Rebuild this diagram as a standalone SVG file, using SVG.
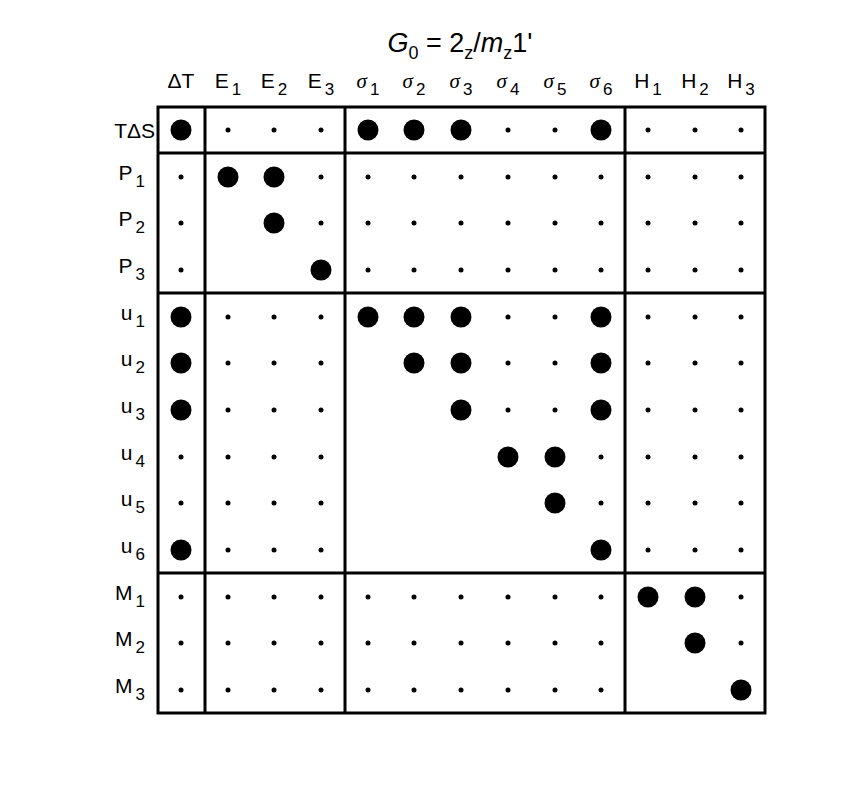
<svg xmlns="http://www.w3.org/2000/svg" width="856" height="812" viewBox="0 0 856 812">
<style>
text{font-family:"Liberation Sans",Arial,sans-serif;fill:#000}
.c{font-size:21px;text-anchor:middle}
.r{font-size:21px;text-anchor:end}
.s{font-family:"Liberation Serif",serif;font-style:italic}
.u{font-size:17px}
.b{fill:#000}
line{stroke:#000;stroke-width:3}
</style>
<rect width="856" height="812" fill="#fff"/>
<text x="460" y="52" font-size="27" text-anchor="middle"><tspan font-style="italic">G</tspan><tspan font-size="18" dy="7">0</tspan><tspan dy="-7"> = 2</tspan><tspan font-size="18" dy="7">z</tspan><tspan dy="-7">/</tspan><tspan font-style="italic">m</tspan><tspan font-size="18" dy="7">z</tspan><tspan dy="-7">1'</tspan></text>
<g id="cols" class="c">
<text x="181" y="88">ΔT</text>
<text x="228" y="88">E<tspan class="u" dx="3" dy="7">1</tspan></text>
<text x="274" y="88">E<tspan class="u" dx="3" dy="7">2</tspan></text>
<text x="321" y="88">E<tspan class="u" dx="3" dy="7">3</tspan></text>
<text x="368" y="88"><tspan class="s">σ</tspan><tspan class="u" dx="3" dy="7">1</tspan></text>
<text x="414" y="88"><tspan class="s">σ</tspan><tspan class="u" dx="3" dy="7">2</tspan></text>
<text x="461" y="88"><tspan class="s">σ</tspan><tspan class="u" dx="3" dy="7">3</tspan></text>
<text x="508" y="88"><tspan class="s">σ</tspan><tspan class="u" dx="3" dy="7">4</tspan></text>
<text x="555" y="88"><tspan class="s">σ</tspan><tspan class="u" dx="3" dy="7">5</tspan></text>
<text x="601" y="88"><tspan class="s">σ</tspan><tspan class="u" dx="3" dy="7">6</tspan></text>
<text x="648" y="88">H<tspan class="u" dx="3" dy="7">1</tspan></text>
<text x="695" y="88">H<tspan class="u" dx="3" dy="7">2</tspan></text>
<text x="741" y="88">H<tspan class="u" dx="3" dy="7">3</tspan></text>
</g>
<g id="rows" class="r">
<text x="155" y="138">TΔS</text>
<text x="145" y="180">P<tspan class="u" dx="3" dy="7">1</tspan></text>
<text x="145" y="226">P<tspan class="u" dx="3" dy="7">2</tspan></text>
<text x="145" y="273">P<tspan class="u" dx="3" dy="7">3</tspan></text>
<text x="145" y="320">u<tspan class="u" dx="3" dy="7">1</tspan></text>
<text x="145" y="366">u<tspan class="u" dx="3" dy="7">2</tspan></text>
<text x="145" y="413">u<tspan class="u" dx="3" dy="7">3</tspan></text>
<text x="145" y="460">u<tspan class="u" dx="3" dy="7">4</tspan></text>
<text x="145" y="506">u<tspan class="u" dx="3" dy="7">5</tspan></text>
<text x="145" y="553">u<tspan class="u" dx="3" dy="7">6</tspan></text>
<text x="145" y="600">M<tspan class="u" dx="3" dy="7">1</tspan></text>
<text x="145" y="646">M<tspan class="u" dx="3" dy="7">2</tspan></text>
<text x="145" y="693">M<tspan class="u" dx="3" dy="7">3</tspan></text>
</g>
<g id="grid">
<rect x="158" y="107" width="607" height="606" fill="none" stroke="#000" stroke-width="3"/>
<line x1="205" y1="107" x2="205" y2="713"/>
<line x1="345" y1="107" x2="345" y2="713"/>
<line x1="625" y1="107" x2="625" y2="713"/>
<line x1="158" y1="153" x2="765" y2="153"/>
<line x1="158" y1="293" x2="765" y2="293"/>
<line x1="158" y1="573" x2="765" y2="573"/>
</g>
<g id="dots" class="b">
<circle cx="181" cy="130" r="10.5"/><circle cx="228" cy="130" r="2.5"/><circle cx="274" cy="130" r="2.5"/><circle cx="321" cy="130" r="2.5"/><circle cx="368" cy="130" r="10.5"/><circle cx="414" cy="130" r="10.5"/><circle cx="461" cy="130" r="10.5"/><circle cx="508" cy="130" r="2.5"/><circle cx="555" cy="130" r="2.5"/><circle cx="601" cy="130" r="10.5"/><circle cx="648" cy="130" r="2.5"/><circle cx="695" cy="130" r="2.5"/><circle cx="741" cy="130" r="2.5"/>
<circle cx="181" cy="177" r="2.5"/><circle cx="228" cy="177" r="10.5"/><circle cx="274" cy="177" r="10.5"/><circle cx="321" cy="177" r="2.5"/><circle cx="368" cy="177" r="2.5"/><circle cx="414" cy="177" r="2.5"/><circle cx="461" cy="177" r="2.5"/><circle cx="508" cy="177" r="2.5"/><circle cx="555" cy="177" r="2.5"/><circle cx="601" cy="177" r="2.5"/><circle cx="648" cy="177" r="2.5"/><circle cx="695" cy="177" r="2.5"/><circle cx="741" cy="177" r="2.5"/>
<circle cx="181" cy="223" r="2.5"/><circle cx="274" cy="223" r="10.5"/><circle cx="321" cy="223" r="2.5"/><circle cx="368" cy="223" r="2.5"/><circle cx="414" cy="223" r="2.5"/><circle cx="461" cy="223" r="2.5"/><circle cx="508" cy="223" r="2.5"/><circle cx="555" cy="223" r="2.5"/><circle cx="601" cy="223" r="2.5"/><circle cx="648" cy="223" r="2.5"/><circle cx="695" cy="223" r="2.5"/><circle cx="741" cy="223" r="2.5"/>
<circle cx="181" cy="270" r="2.5"/><circle cx="321" cy="270" r="10.5"/><circle cx="368" cy="270" r="2.5"/><circle cx="414" cy="270" r="2.5"/><circle cx="461" cy="270" r="2.5"/><circle cx="508" cy="270" r="2.5"/><circle cx="555" cy="270" r="2.5"/><circle cx="601" cy="270" r="2.5"/><circle cx="648" cy="270" r="2.5"/><circle cx="695" cy="270" r="2.5"/><circle cx="741" cy="270" r="2.5"/>
<circle cx="181" cy="317" r="10.5"/><circle cx="228" cy="317" r="2.5"/><circle cx="274" cy="317" r="2.5"/><circle cx="321" cy="317" r="2.5"/><circle cx="368" cy="317" r="10.5"/><circle cx="414" cy="317" r="10.5"/><circle cx="461" cy="317" r="10.5"/><circle cx="508" cy="317" r="2.5"/><circle cx="555" cy="317" r="2.5"/><circle cx="601" cy="317" r="10.5"/><circle cx="648" cy="317" r="2.5"/><circle cx="695" cy="317" r="2.5"/><circle cx="741" cy="317" r="2.5"/>
<circle cx="181" cy="363" r="10.5"/><circle cx="228" cy="363" r="2.5"/><circle cx="274" cy="363" r="2.5"/><circle cx="321" cy="363" r="2.5"/><circle cx="414" cy="363" r="10.5"/><circle cx="461" cy="363" r="10.5"/><circle cx="508" cy="363" r="2.5"/><circle cx="555" cy="363" r="2.5"/><circle cx="601" cy="363" r="10.5"/><circle cx="648" cy="363" r="2.5"/><circle cx="695" cy="363" r="2.5"/><circle cx="741" cy="363" r="2.5"/>
<circle cx="181" cy="410" r="10.5"/><circle cx="228" cy="410" r="2.5"/><circle cx="274" cy="410" r="2.5"/><circle cx="321" cy="410" r="2.5"/><circle cx="461" cy="410" r="10.5"/><circle cx="508" cy="410" r="2.5"/><circle cx="555" cy="410" r="2.5"/><circle cx="601" cy="410" r="10.5"/><circle cx="648" cy="410" r="2.5"/><circle cx="695" cy="410" r="2.5"/><circle cx="741" cy="410" r="2.5"/>
<circle cx="181" cy="457" r="2.5"/><circle cx="228" cy="457" r="2.5"/><circle cx="274" cy="457" r="2.5"/><circle cx="321" cy="457" r="2.5"/><circle cx="508" cy="457" r="10.5"/><circle cx="555" cy="457" r="10.5"/><circle cx="601" cy="457" r="2.5"/><circle cx="648" cy="457" r="2.5"/><circle cx="695" cy="457" r="2.5"/><circle cx="741" cy="457" r="2.5"/>
<circle cx="181" cy="503" r="2.5"/><circle cx="228" cy="503" r="2.5"/><circle cx="274" cy="503" r="2.5"/><circle cx="321" cy="503" r="2.5"/><circle cx="555" cy="503" r="10.5"/><circle cx="601" cy="503" r="2.5"/><circle cx="648" cy="503" r="2.5"/><circle cx="695" cy="503" r="2.5"/><circle cx="741" cy="503" r="2.5"/>
<circle cx="181" cy="550" r="10.5"/><circle cx="228" cy="550" r="2.5"/><circle cx="274" cy="550" r="2.5"/><circle cx="321" cy="550" r="2.5"/><circle cx="601" cy="550" r="10.5"/><circle cx="648" cy="550" r="2.5"/><circle cx="695" cy="550" r="2.5"/><circle cx="741" cy="550" r="2.5"/>
<circle cx="181" cy="597" r="2.5"/><circle cx="228" cy="597" r="2.5"/><circle cx="274" cy="597" r="2.5"/><circle cx="321" cy="597" r="2.5"/><circle cx="368" cy="597" r="2.5"/><circle cx="414" cy="597" r="2.5"/><circle cx="461" cy="597" r="2.5"/><circle cx="508" cy="597" r="2.5"/><circle cx="555" cy="597" r="2.5"/><circle cx="601" cy="597" r="2.5"/><circle cx="648" cy="597" r="10.5"/><circle cx="695" cy="597" r="10.5"/><circle cx="741" cy="597" r="2.5"/>
<circle cx="181" cy="643" r="2.5"/><circle cx="228" cy="643" r="2.5"/><circle cx="274" cy="643" r="2.5"/><circle cx="321" cy="643" r="2.5"/><circle cx="368" cy="643" r="2.5"/><circle cx="414" cy="643" r="2.5"/><circle cx="461" cy="643" r="2.5"/><circle cx="508" cy="643" r="2.5"/><circle cx="555" cy="643" r="2.5"/><circle cx="601" cy="643" r="2.5"/><circle cx="695" cy="643" r="10.5"/><circle cx="741" cy="643" r="2.5"/>
<circle cx="181" cy="690" r="2.5"/><circle cx="228" cy="690" r="2.5"/><circle cx="274" cy="690" r="2.5"/><circle cx="321" cy="690" r="2.5"/><circle cx="368" cy="690" r="2.5"/><circle cx="414" cy="690" r="2.5"/><circle cx="461" cy="690" r="2.5"/><circle cx="508" cy="690" r="2.5"/><circle cx="555" cy="690" r="2.5"/><circle cx="601" cy="690" r="2.5"/><circle cx="741" cy="690" r="10.5"/>
</g>
</svg>
